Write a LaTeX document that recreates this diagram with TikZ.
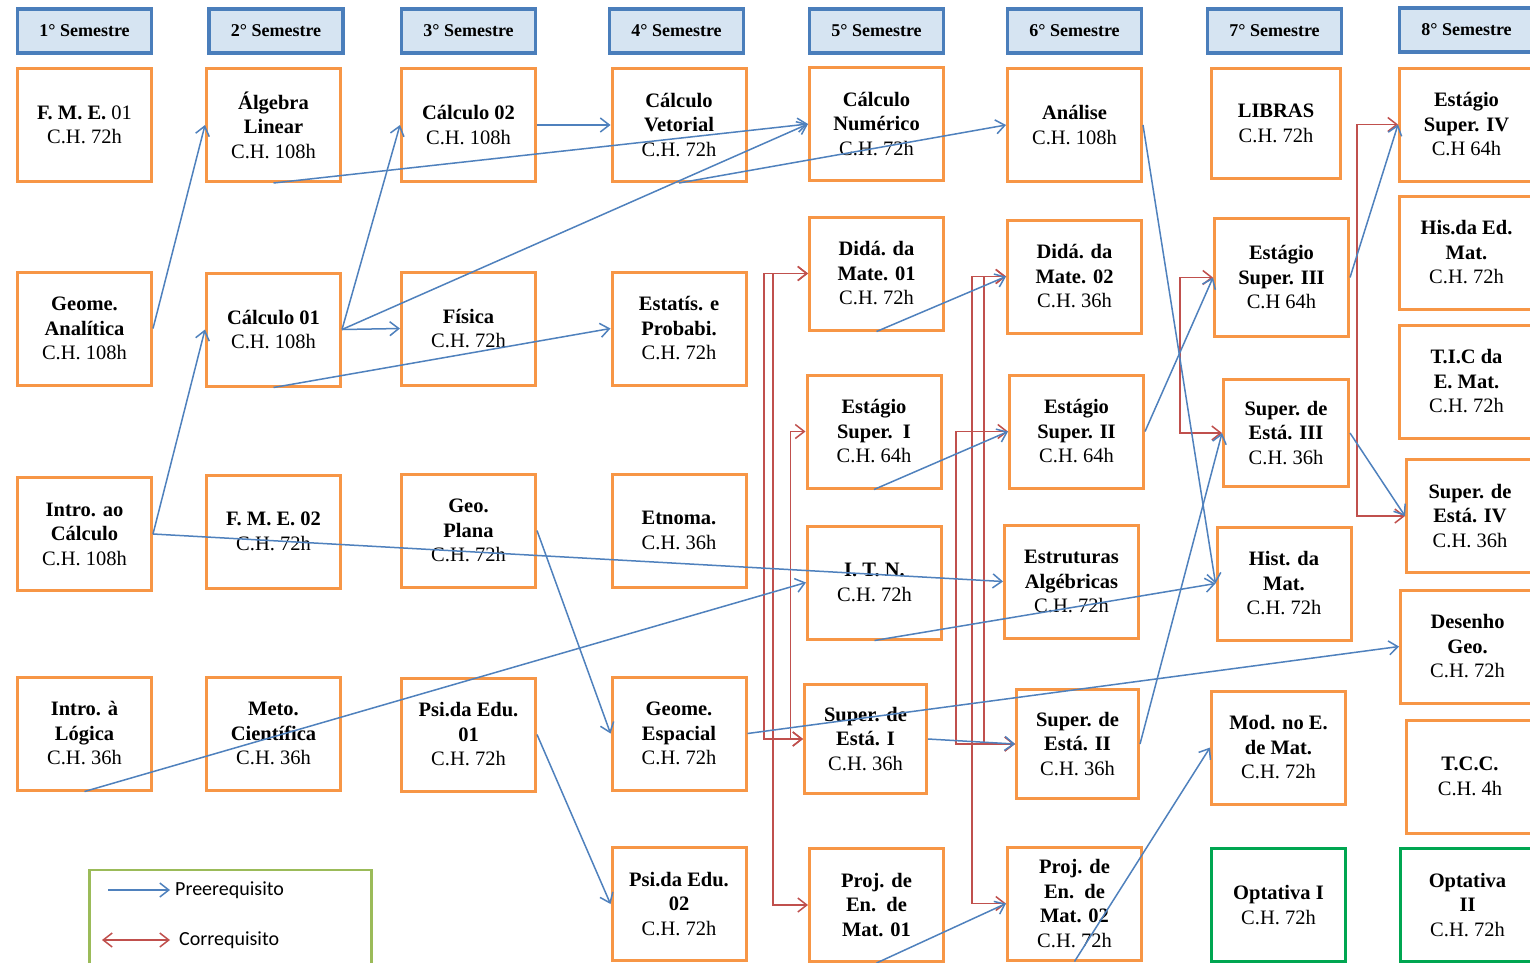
\documentclass[tikz,border=0pt]{standalone}
\usepackage{fontspec}
\setmainfont{Liberation Serif}
\newfontfamily\legfont{Carlito}
\usetikzlibrary{arrows.meta}
\definecolor{discorange}{HTML}{F79646}
\definecolor{semblue}{HTML}{4A7EBB}
\definecolor{semfill}{HTML}{D6E4F2}
\definecolor{preblue}{HTML}{4F81BD}
\definecolor{cored}{HTML}{C0504D}
\definecolor{optgreen}{HTML}{00A651}
\definecolor{leggreen}{HTML}{9BBB59}

\begin{document}
\begin{tikzpicture}[x=1pt, y=-1pt,
        semhead/.style={draw=semblue, fill=semfill, line width=3.5pt, minimum width=134pt, minimum height=44pt, inner sep=0pt, font=\fontsize{18}{20}\selectfont\bfseries},
        disc/.style={draw=discorange, line width=3pt, minimum width=134pt, minimum height=113pt, inner sep=0pt, align=center, font=\fontsize{20.5}{24.5}\selectfont},
        optdisc/.style={disc, draw=optgreen},
        prereq/.style={draw=preblue, line width=1.5pt, -{Straight Barb[length=9pt,width=14pt]}},
        coreq/.style={draw=cored, line width=1.5pt, {Straight Barb[length=9pt,width=14pt]}-{Straight Barb[length=9pt,width=14pt]}},
        legtext/.style={anchor=west, font=\legfont\fontsize{20}{24}\selectfont}]
        \useasboundingbox (0,0) rectangle (1530,962);
        \fill[white] (0,0) rectangle (1530,962);
        \clip (0,0) rectangle (1530,962);

        \node[semhead] (h1) at (84.5,31) {1° Semestre};
        \node[semhead] (h2) at (276,31) {2° Semestre};
        \node[semhead] (h3) at (468.5,31) {3° Semestre};
        \node[semhead] (h4) at (676.5,31) {4° Semestre};
        \node[semhead] (h5) at (876.5,31) {5° Semestre};
        \node[semhead] (h6) at (1074.5,31) {6° Semestre};
        \node[semhead] (h7) at (1274.5,31) {7° Semestre};
        \node[semhead] (h8) at (1466.5,30) {8° Semestre};

        \node[disc] (fme1) at (84.5,125) {\textbf{F. M. E.} 01\\C.H. 72h};
        \node[disc] (geoan) at (84.5,328.5) {\textbf{Geome.}\\\textbf{Analítica}\\C.H. 108h};
        \node[disc] (introcalc) at (84.5,534) {\textbf{Intro. ao}\\\textbf{Cálculo}\\C.H. 108h};
        \node[disc] (logica) at (84.5,733.5) {\textbf{Intro. à}\\\textbf{Lógica}\\C.H. 36h};

        \node[disc] (alg) at (273.5,125) {\textbf{Álgebra}\\\textbf{Linear}\\C.H. 108h};
        \node[disc] (calc1) at (273.5,329.5) {\textbf{Cálculo 01}\\C.H. 108h};
        \node[disc] (fme2) at (273.5,531.5) {\textbf{F. M. E. 02}\\C.H. 72h};
        \node[disc] (meto) at (273.5,733.5) {\textbf{Meto.}\\\textbf{Científica}\\C.H. 36h};

        \node[disc] (calc2) at (468.5,125) {\textbf{Cálculo 02}\\C.H. 108h};
        \node[disc] (fisica) at (468.5,328.5) {\textbf{Física}\\C.H. 72h};
        \node[disc] (geoplana) at (468.5,530.5) {\textbf{Geo.}\\\textbf{Plana}\\C.H. 72h};
        \node[disc] (psi1) at (468.5,734.5) {\textbf{Psi.da Edu.}\\\textbf{01}\\C.H. 72h};

        \node[disc] (calcvet) at (679,125) {\textbf{Cálculo}\\\textbf{Vetorial}\\C.H. 72h};
        \node[disc] (estat) at (679,328.5) {\textbf{Estatís. e}\\\textbf{Probabi.}\\C.H. 72h};
        \node[disc] (etno) at (679,530.5) {\textbf{Etnoma.}\\C.H. 36h};
        \node[disc] (geoesp) at (679,733.5) {\textbf{Geome.}\\\textbf{Espacial}\\C.H. 72h};
        \node[disc] (psi2) at (679,904) {\textbf{Psi.da Edu.}\\\textbf{02}\\C.H. 72h};

        \node[disc] (calcnum) at (876.5,124) {\textbf{Cálculo}\\\textbf{Numérico}\\C.H. 72h};
        \node[disc] (dida1) at (876.5,273.5) {\textbf{Didá. da}\\\textbf{Mate. 01}\\C.H. 72h};
        \node[disc] (estag1) at (874,431.5) {\textbf{Estágio}\\\textbf{Super.~~I}\\C.H. 64h};
        \node[disc] (itn) at (874.5,582.5) {\textbf{I. T. N.}\\C.H. 72h};
        \node[disc, minimum width=122pt, minimum height=109pt] (supest1) at (865.5,739) {\textbf{Super. de}\\\textbf{Está. I}\\C.H. 36h};
        \node[disc] (proj1) at (876.5,905) {\textbf{Proj. de}\\\textbf{En.~~de}\\\textbf{Mat. 01}};

        \node[disc] (analise) at (1074.5,125) {\textbf{Análise}\\C.H. 108h};
        \node[disc] (dida2) at (1074.5,276.5) {\textbf{Didá. da}\\\textbf{Mate. 02}\\C.H. 36h};
        \node[disc] (estag2) at (1076.5,431.5) {\textbf{Estágio}\\\textbf{Super. II}\\C.H. 64h};
        \node[disc] (estrut) at (1071.5,581.5) {\textbf{Estruturas}\\\textbf{Algébricas}\\C.H. 72h};
        \node[disc, minimum width=122pt, minimum height=109pt] (supest2) at (1077.5,744) {\textbf{Super. de}\\\textbf{Está. II}\\C.H. 36h};
        \node[disc] (proj2) at (1074.5,903.5) {\textbf{Proj. de}\\\textbf{En.~~de}\\\textbf{Mat. 02}\\C.H. 72h};

        \node[disc, minimum width=129pt, minimum height=110pt] (libras) at (1276,123.5) {\textbf{LIBRAS}\\C.H. 72h};
        \node[disc, minimum height=118pt] (estag3) at (1281.5,277.5) {\textbf{Estágio}\\\textbf{Super. III}\\C.H 64h};
        \node[disc, minimum width=125pt, minimum height=107pt] (supest3) at (1286,433) {\textbf{Super. de}\\\textbf{Está. III}\\C.H. 36h};
        \node[disc] (hist) at (1284,583.5) {\textbf{Hist. da}\\\textbf{Mat.}\\C.H. 72h};
        \node[disc] (modmat) at (1278.5,747.5) {\textbf{Mod. no E.}\\\textbf{de Mat.}\\C.H. 72h};
        \node[optdisc] (opt1) at (1278.5,905) {\textbf{Optativa I}\\C.H. 72h};

        \node[disc] (estag4) at (1466.5,124.5) {\textbf{Estágio}\\\textbf{Super. IV}\\C.H 64h};
        \node[disc] (hised) at (1466.5,252.5) {\textbf{His.da Ed.}\\\textbf{Mat.}\\C.H. 72h};
        \node[disc] (tic) at (1466.5,381.5) {\textbf{T.I.C da}\\\textbf{E. Mat.}\\C.H. 72h};
        \node[disc, minimum width=127pt] (supest4) at (1470,516) {\textbf{Super. de}\\\textbf{Está. IV}\\C.H. 36h};
        \node[disc] (desenho) at (1467.5,646.5) {\textbf{Desenho}\\\textbf{Geo.}\\C.H. 72h};
        \node[disc, minimum width=127pt] (tcc) at (1470,776.5) {\textbf{T.C.C.}\\C.H. 4h};
        \node[optdisc] (opt2) at (1467.5,905) {\textbf{Optativa}\\\textbf{II}\\C.H. 72h};

        \node[draw=leggreen, line width=2.5pt, minimum width=282pt, minimum height=108pt] (legbox) at (230.5,924) {};
        \node[legtext, inner sep=5pt] (prelbl) at (170,890) {Preerequisito};
        \node[legtext, inner sep=9pt] (corlbl) at (170,940) {Correquisito};
        \coordinate (prestart) at (108,890);
        \coordinate (costart) at (102,940);
        \draw[prereq] (prestart) -- (prelbl.west);
        \draw[coreq] (costart) -- (corlbl.west);

        \draw[coreq] (dida1.west) -- ++(-44,0) |- (supest1.west);
        \draw[coreq] (dida1.west) -- ++(-35,0) |- (proj1.west);
        \draw[coreq] (estag1.west) -- ++(-15,0) |- (supest1.west);
        \draw[coreq] (dida2.west) -- ++(-34,0) |- (proj2.west);
        \draw[coreq] (dida2.west) -- ++(-22,0) |- (supest2.west);
        \draw[coreq] (estag2.west) -- ++(-52,0) |- (supest2.west);
        \draw[coreq] (estag3.west) -- ++(-33,0) |- (supest3.west);
        \draw[coreq] (estag4.west) -- ++(-41,0) |- (supest4.west);

        \draw[prereq] (geoan.east) -- (alg.west);
        \draw[prereq] (introcalc.east) -- (calc1.west);
        \draw[prereq] (introcalc.east) -- (estrut.west);
        \draw[prereq] (calc1.east) -- (calc2.west);
        \draw[prereq] (calc1.east) -- (fisica.west);
        \draw[prereq] (calc1.east) -- (calcnum.west);
        \draw[prereq] (alg.south) -- (calcnum.west);
        \draw[prereq] (calcvet.south) -- (analise.west);
        \draw[prereq] (calc2.east) -- (calcvet.west);
        \draw[prereq] (calc1.south) -- (estat.west);
        \draw[prereq] (dida1.south) -- (dida2.west);
        \draw[prereq] (estag1.south) -- (estag2.west);
        \draw[prereq] (itn.south) -- (hist.west);
        \draw[prereq] (logica.south) -- (itn.west);
        \draw[prereq] (geoplana.east) -- (geoesp.west);
        \draw[prereq] (psi1.east) -- (psi2.west);
        \draw[prereq] (geoesp.east) -- (desenho.west);
        \draw[prereq] (supest1.east) -- (supest2.west);
        \draw[prereq] (supest2.east) -- (supest3.west);
        \draw[prereq] (estag2.east) -- (estag3.west);
        \draw[prereq] (analise.east) -- (hist.west);
        \draw[prereq] (proj1.south) -- (proj2.west);
        \draw[prereq] (proj2.south) -- (modmat.west);
        \draw[prereq] (estag3.east) -- (estag4.west);
        \draw[prereq] (supest3.east) -- (supest4.west);
\end{tikzpicture}
\end{document}
